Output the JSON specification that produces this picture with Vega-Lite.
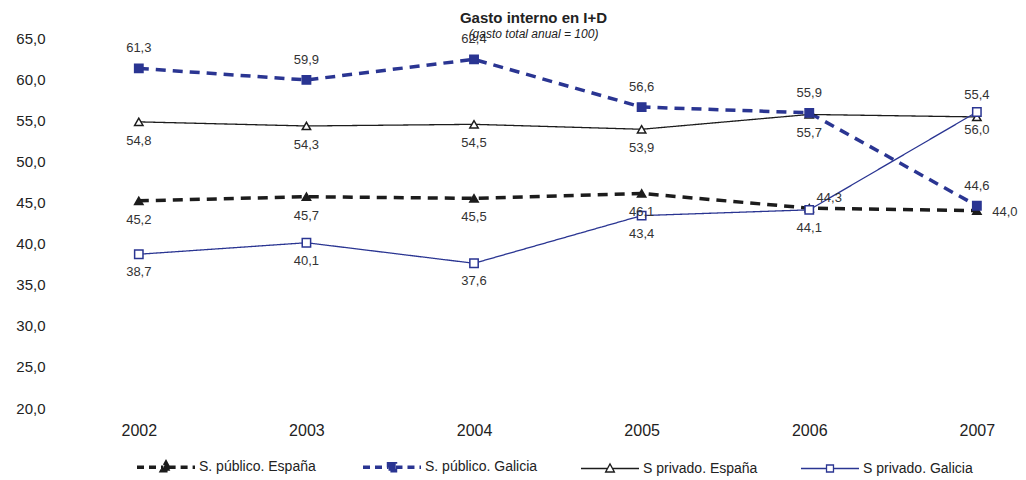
{
  "$schema": "https://vega.github.io/schema/vega-lite/v6.json",
  "autosize": "none",
  "width": 947,
  "height": 370,
  "padding": {"left": 55, "top": 38, "right": 24, "bottom": 72},
  "background": "white",
  "title": {
    "text": "Gasto interno en I+D",
    "subtitle": "(gasto total anual = 100)",
    "font": "Liberation Sans",
    "fontSize": 15,
    "fontWeight": "bold",
    "color": "#222222",
    "subtitleFont": "Liberation Sans",
    "subtitleFontSize": 12,
    "subtitleFontStyle": "italic",
    "subtitleColor": "#222222",
    "subtitlePadding": 3,
    "anchor": "middle",
    "dx": 5,
    "offset": -9
  },
  "data": {
    "values": [
      {"serie": "S. público. España", "year": 2002, "valor": 45.2},
      {"serie": "S. público. España", "year": 2003, "valor": 45.7},
      {"serie": "S. público. España", "year": 2004, "valor": 45.5},
      {"serie": "S. público. España", "year": 2005, "valor": 46.1},
      {"serie": "S. público. España", "year": 2006, "valor": 44.3},
      {"serie": "S. público. España", "year": 2007, "valor": 44.0},
      {"serie": "S. público. Galicia", "year": 2002, "valor": 61.3},
      {"serie": "S. público. Galicia", "year": 2003, "valor": 59.9},
      {"serie": "S. público. Galicia", "year": 2004, "valor": 62.4},
      {"serie": "S. público. Galicia", "year": 2005, "valor": 56.6},
      {"serie": "S. público. Galicia", "year": 2006, "valor": 55.9},
      {"serie": "S. público. Galicia", "year": 2007, "valor": 44.6},
      {"serie": "S privado. España", "year": 2002, "valor": 54.8},
      {"serie": "S privado. España", "year": 2003, "valor": 54.3},
      {"serie": "S privado. España", "year": 2004, "valor": 54.5},
      {"serie": "S privado. España", "year": 2005, "valor": 53.9},
      {"serie": "S privado. España", "year": 2006, "valor": 55.7},
      {"serie": "S privado. España", "year": 2007, "valor": 55.4},
      {"serie": "S privado. Galicia", "year": 2002, "valor": 38.7},
      {"serie": "S privado. Galicia", "year": 2003, "valor": 40.1},
      {"serie": "S privado. Galicia", "year": 2004, "valor": 37.6},
      {"serie": "S privado. Galicia", "year": 2005, "valor": 43.4},
      {"serie": "S privado. Galicia", "year": 2006, "valor": 44.1},
      {"serie": "S privado. Galicia", "year": 2007, "valor": 56.0}
    ]
  },
  "encoding": {
    "x": {
      "field": "year",
      "type": "quantitative",
      "scale": {"domain": [2001.5, 2007.15], "nice": false, "zero": false},
      "axis": {
        "title": null,
        "values": [2002, 2003, 2004, 2005, 2006, 2007],
        "format": "d",
        "domain": false,
        "ticks": false,
        "grid": false,
        "labelFont": "Liberation Sans",
        "labelFontSize": 16,
        "labelColor": "#222222",
        "labelPadding": 14
      }
    },
    "y": {
      "field": "valor",
      "type": "quantitative",
      "scale": {"domain": [20, 65], "nice": false, "zero": false},
      "axis": {
        "title": null,
        "values": [20, 25, 30, 35, 40, 45, 50, 55, 60, 65],
        "format": ".1f",
        "domain": false,
        "ticks": false,
        "grid": false,
        "labelFont": "Liberation Sans",
        "labelFontSize": 15,
        "labelColor": "#222222",
        "labelPadding": 10
      }
    }
  },
  "layer": [
    {
      "mark": {"type": "line", "clip": false},
      "encoding": {
        "stroke": {"field": "serie", "type": "nominal", "legend": null,
          "scale": {"type": "ordinal", "domain": ["S. público. España", "S. público. Galicia", "S privado. España", "S privado. Galicia"],
                    "range": ["#1c1c1c", "#2a3592", "#1c1c1c", "#2a3592"]}},
        "strokeDash": {"field": "serie", "type": "nominal", "legend": null,
          "scale": {"type": "ordinal", "domain": ["S. público. España", "S. público. Galicia", "S privado. España", "S privado. Galicia"],
                    "range": [[10, 7], [10, 7], [1, 0], [1, 0]]}},
        "strokeWidth": {"field": "serie", "type": "nominal", "legend": null,
          "scale": {"type": "ordinal", "domain": ["S. público. España", "S. público. Galicia", "S privado. España", "S privado. Galicia"],
                    "range": [3.5, 3.5, 1.3, 1.3]}}
      }
    },
    {
      "transform": [{"filter": "datum.serie === 'S. público. España' || datum.serie === 'S privado. España'"}],
      "mark": {"type": "point", "shape": "triangle-up", "opacity": 1, "strokeWidth": 1.5, "size": 70},
      "encoding": {
        "fill": {"field": "serie", "type": "nominal", "legend": null,
          "scale": {"type": "ordinal", "domain": ["S. público. España", "S. público. Galicia", "S privado. España", "S privado. Galicia"],
                    "range": ["#1c1c1c", "#2a3592", "#ffffff", "#ffffff"]}},
        "stroke": {"field": "serie", "type": "nominal", "legend": null,
          "scale": {"type": "ordinal", "domain": ["S. público. España", "S. público. Galicia", "S privado. España", "S privado. Galicia"],
                    "range": ["#1c1c1c", "#2a3592", "#1c1c1c", "#2a3592"]}}
      }
    },
    {
      "transform": [{"filter": "datum.serie === 'S. público. Galicia' || datum.serie === 'S privado. Galicia'"}],
      "mark": {"type": "point", "shape": "square", "opacity": 1, "strokeWidth": 1.5, "size": 70},
      "encoding": {
        "fill": {"field": "serie", "type": "nominal", "legend": null,
          "scale": {"type": "ordinal", "domain": ["S. público. España", "S. público. Galicia", "S privado. España", "S privado. Galicia"],
                    "range": ["#1c1c1c", "#2a3592", "#ffffff", "#ffffff"]}},
        "stroke": {"field": "serie", "type": "nominal", "legend": null,
          "scale": {"type": "ordinal", "domain": ["S. público. España", "S. público. Galicia", "S privado. España", "S privado. Galicia"],
                    "range": ["#1c1c1c", "#2a3592", "#1c1c1c", "#2a3592"]}}
      }
    },
    {
      "mark": {"type": "point", "opacity": 0},
      "encoding": {
        "shape": {"field": "serie", "type": "nominal",
          "scale": {"type": "ordinal", "domain": ["S. público. España", "S. público. Galicia", "S privado. España", "S privado. Galicia"],
                    "range": [
                      "M-1,0H-0.09M0.09,0H1M0,-0.16L0.15,0.12L-0.15,0.12Z",
                      "M-1,0H-0.12M0.12,0H1M-0.12,-0.12H0.12V0.12H-0.12Z",
                      "M-1,0H-0.09M0.09,0H1M0,-0.16L0.15,0.12L-0.15,0.12Z",
                      "M-1,0H-0.12M0.12,0H1M-0.12,-0.12H0.12V0.12H-0.12Z"
                    ]},
          "legend": {"title": null, "orient": "none", "legendX": 80, "legendY": 398, "direction": "horizontal", "columns": 4}},
        "fill": {"field": "serie", "type": "nominal",
          "scale": {"type": "ordinal", "domain": ["S. público. España", "S. público. Galicia", "S privado. España", "S privado. Galicia"],
                    "range": ["#1c1c1c", "#2a3592", "#ffffff", "#ffffff"]},
          "legend": {"title": null, "orient": "none", "legendX": 80, "legendY": 398, "direction": "horizontal", "columns": 4}},
        "stroke": {"field": "serie", "type": "nominal",
          "scale": {"type": "ordinal", "domain": ["S. público. España", "S. público. Galicia", "S privado. España", "S privado. Galicia"],
                    "range": ["#1c1c1c", "#2a3592", "#1c1c1c", "#2a3592"]},
          "legend": {"title": null, "orient": "none", "legendX": 80, "legendY": 398, "direction": "horizontal", "columns": 4}},
        "strokeDash": {"field": "serie", "type": "nominal",
          "scale": {"type": "ordinal", "domain": ["S. público. España", "S. público. Galicia", "S privado. España", "S privado. Galicia"],
                    "range": [[7, 5], [7, 5], [1, 0], [1, 0]]},
          "legend": {"title": null, "orient": "none", "legendX": 80, "legendY": 398, "direction": "horizontal", "columns": 4}},
        "strokeWidth": {"field": "serie", "type": "nominal",
          "scale": {"type": "ordinal", "domain": ["S. público. España", "S. público. Galicia", "S privado. España", "S privado. Galicia"],
                    "range": [3.5, 3.5, 1.3, 1.3]},
          "legend": {"title": null, "orient": "none", "legendX": 80, "legendY": 398, "direction": "horizontal", "columns": 4}}
      }
    },
    {
      "transform": [{"filter": "datum.serie === 'S. público. Galicia'"}],
      "mark": {"type": "text", "dy": -20, "font": "Liberation Sans", "fontSize": 13, "color": "#333333"},
      "encoding": {"text": {"field": "valor", "type": "quantitative", "format": ".1f"}}
    },
    {
      "transform": [{"filter": "datum.serie === 'S privado. España' && datum.year !== 2007"}],
      "mark": {"type": "text", "dy": 19, "font": "Liberation Sans", "fontSize": 13, "color": "#333333"},
      "encoding": {"text": {"field": "valor", "type": "quantitative", "format": ".1f"}}
    },
    {
      "transform": [{"filter": "datum.serie === 'S privado. España' && datum.year === 2007"}],
      "mark": {"type": "text", "dy": -22, "font": "Liberation Sans", "fontSize": 13, "color": "#333333"},
      "encoding": {"text": {"field": "valor", "type": "quantitative", "format": ".1f"}}
    },
    {
      "transform": [{"filter": "datum.serie === 'S. público. España' && datum.year < 2006"}],
      "mark": {"type": "text", "dy": 19, "font": "Liberation Sans", "fontSize": 13, "color": "#333333"},
      "encoding": {"text": {"field": "valor", "type": "quantitative", "format": ".1f"}}
    },
    {
      "transform": [{"filter": "datum.serie === 'S. público. España' && datum.year === 2006"}],
      "mark": {"type": "text", "dx": 20, "dy": -10, "font": "Liberation Sans", "fontSize": 13, "color": "#333333"},
      "encoding": {"text": {"field": "valor", "type": "quantitative", "format": ".1f"}}
    },
    {
      "transform": [{"filter": "datum.serie === 'S. público. España' && datum.year === 2007"}],
      "mark": {"type": "text", "dx": 28, "dy": 1, "font": "Liberation Sans", "fontSize": 13, "color": "#333333"},
      "encoding": {"text": {"field": "valor", "type": "quantitative", "format": ".1f"}}
    },
    {
      "transform": [{"filter": "datum.serie === 'S privado. Galicia'"}],
      "mark": {"type": "text", "dy": 18, "font": "Liberation Sans", "fontSize": 13, "color": "#333333"},
      "encoding": {"text": {"field": "valor", "type": "quantitative", "format": ".1f"}}
    }
  ],
  "resolve": {
    "scale": {"stroke": "independent", "fill": "independent", "strokeDash": "independent", "strokeWidth": "independent", "shape": "independent"}
  },
  "config": {
    "view": {"stroke": null},
    "legend": {
      "symbolSize": 3364,
      "symbolOpacity": 1,
      "labelOffset": 2,
      "columnPadding": 40,
      "labelFont": "Liberation Sans",
      "labelFontSize": 14,
      "labelColor": "#222222",
      "labelLimit": 300
    },
    "locale": {"number": {"decimal": ",", "thousands": ".", "grouping": [3], "currency": ["", " €"]}}
  }
}
